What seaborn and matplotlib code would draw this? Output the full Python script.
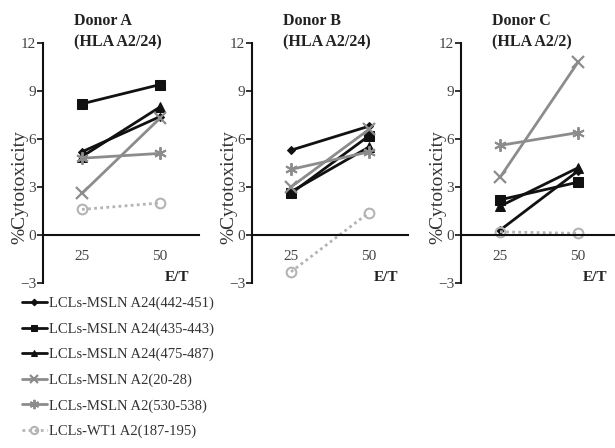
import matplotlib
matplotlib.use("Agg")
import matplotlib.pyplot as plt
import seaborn as sns
import pandas as pd

sns.set_style("white")
plt.rcParams['font.family'] = ['Liberation Serif', 'DejaVu Serif']

et_labels = ["25", "50"]
donors = ["Donor A\n(HLA A2/24)", "Donor B\n(HLA A2/24)", "Donor C\n(HLA A2/2)"]
series_names = ["LCLs-MSLN A24(442-451)", "LCLs-MSLN A24(435-443)", "LCLs-MSLN A24(475-487)",
                "LCLs-MSLN A2(20-28)", "LCLs-MSLN A2(530-538)", "LCLs-WT1 A2(187-195)"]

donor_a = [[5.2, 7.4], [8.2, 9.4], [4.9, 8.0], [2.6, 7.3], [4.8, 5.1], [1.6, 2.0]]
donor_b = [[5.3, 6.8], [2.6, 6.2], [2.7, 5.5], [3.0, 6.6], [4.1, 5.2], [-2.3, 1.4]]
donor_c = [[0.3, 4.0], [2.2, 3.3], [1.8, 4.2], [3.6, 10.8], [5.6, 6.4], [0.2, 0.1]]
all_data = [donor_a, donor_b, donor_c]

styles = [
    dict(color="#111111", marker="D", markersize=4.5, linestyle="-", markerfacecolor="#111111", markeredgecolor="#111111"),
    dict(color="#111111", marker="s", markersize=6.5, linestyle="-", markerfacecolor="#111111", markeredgecolor="#111111"),
    dict(color="#111111", marker="^", markersize=6.5, linestyle="-", markerfacecolor="#111111", markeredgecolor="#111111"),
    dict(color="#8c8c8c", marker="x", markersize=8, linestyle="-", markeredgewidth=1.6, markeredgecolor="#8c8c8c"),
    dict(color="#8c8c8c", marker=(6, 2, 0), markersize=9, linestyle="-", markeredgewidth=1.4, markeredgecolor="#8c8c8c"),
    dict(color="#b4b4b4", marker="o", markersize=7, linestyle=(0, (1, 1.2)), markerfacecolor="none",
         markeredgecolor="#b4b4b4", markeredgewidth=1.5),
]

fig = plt.figure(figsize=(6.15, 4.48), dpi=100)
W, H = 615, 448
lefts = [43, 252, 461]
ax_w = 156
top_px, bot_px = 43, 283

axes = []
for i, (lp, dname, dvals) in enumerate(zip(lefts, donors, all_data)):
    ax = fig.add_axes([lp / W, 1 - bot_px / H, ax_w / W, (bot_px - top_px) / H])
    axes.append(ax)
    for name, vals, st in zip(series_names, dvals, styles):
        df = pd.DataFrame({"ET": et_labels, "val": vals})
        sns.lineplot(data=df, x="ET", y="val", ax=ax, linewidth=2, label=name, **st)
    if ax.get_legend() is not None:
        ax.get_legend().remove()
    ax.set_xlim(-0.5, 1.5)
    ax.set_ylim(-3, 12)
    ax.set_yticks([-3, 0, 3, 6, 9, 12])
    ax.spines["top"].set_visible(False)
    ax.spines["right"].set_visible(False)
    ax.spines["bottom"].set_position(("data", 0))
    for s in ("left", "bottom"):
        ax.spines[s].set_color("#111111")
        ax.spines[s].set_linewidth(1.5)
    ax.tick_params(axis="y", left=True, length=4, width=1.2, color="#111111",
                   labelsize=11, labelcolor="#444444", pad=1)
    ax.tick_params(axis="x", bottom=False, labelsize=11, labelcolor="#444444", pad=7)
    ax.set_xlabel("")
    ax.set_ylabel("%Cytotoxicity", fontsize=14, color="#333333")
    ax.yaxis.set_label_coords(-0.095, 0.4)
    ax.text(0.94, 0.025, "E/T", transform=ax.transAxes, ha="right", va="center",
            fontsize=11, fontweight="bold", color="#222222")
    ax.text(0.2, 0.97, dname, transform=ax.transAxes, ha="left", va="bottom",
            fontsize=11.5, fontweight="bold", color="#222222", linespacing=1.45)
    ax.patch.set_alpha(0)

handles, labels = axes[0].get_legend_handles_labels()
leg = fig.legend(handles, labels, loc="upper left", bbox_to_anchor=(16 / W, 1 - 291 / H),
                 frameon=False, fontsize=10.5, handlelength=1.7, handletextpad=0.15,
                 labelspacing=0.83, borderaxespad=0, markerscale=0.75)
for t in leg.get_texts():
    t.set_color("#333333")

fig.savefig("out.png", dpi=100)
